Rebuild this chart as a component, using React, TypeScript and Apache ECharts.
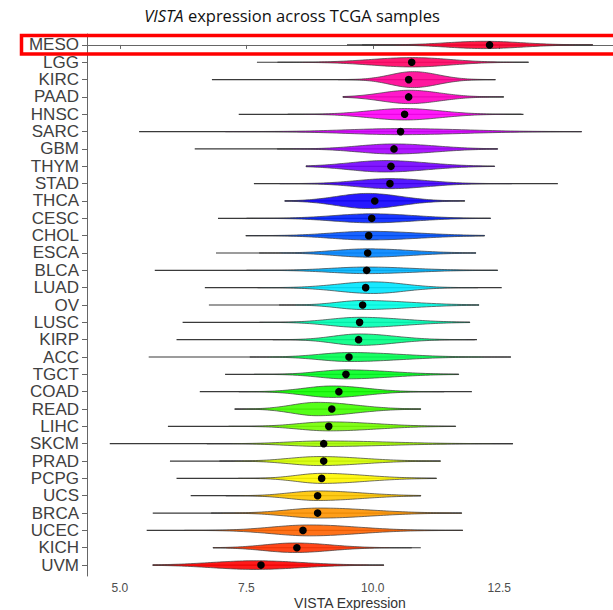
import React, { useEffect, useRef } from "react";
import * as echarts from "echarts";

// Categories listed top to bottom
const categories = [
  "MESO", "LGG", "KIRC", "PAAD", "HNSC", "SARC", "GBM", "THYM", "STAD", "THCA",
  "CESC", "CHOL", "ESCA", "BLCA", "LUAD", "OV", "LUSC", "KIRP", "ACC", "TGCT",
  "COAD", "READ", "LIHC", "SKCM", "PRAD", "PCPG", "UCS", "BRCA", "UCEC", "KICH", "UVM",
];
// whisker range (min / max of expression)
const minValues = [
  9.49, 7.71, 6.82, 9.41, 7.35, 5.38, 6.48, 8.68, 7.65, 8.26,
  6.94, 7.49, 6.9, 5.69, 6.68, 6.76, 6.24, 6.12, 5.57, 7.08,
  6.58, 7.27, 5.95, 4.8, 5.99, 6.12, 6.4, 5.65, 5.53, 6.84, 5.65,
];
const maxValues = [
  14.35, 13.08, 12.43, 12.59, 12.98, 14.13, 12.47, 12.41, 13.66, 11.82,
  12.33, 12.21, 12.04, 12.47, 12.55, 12.1, 11.92, 12.06, 12.73, 11.7,
  11.96, 10.95, 11.64, 12.77, 11.34, 11.26, 10.95, 11.76, 11.78, 10.95, 10.22,
];
const medians = [
  12.31, 10.77, 10.71, 10.71, 10.63, 10.55, 10.42, 10.36, 10.34, 10.04,
  9.98, 9.92, 9.9, 9.88, 9.86, 9.8, 9.74, 9.72, 9.53, 9.47,
  9.33, 9.19, 9.13, 9.03, 9.03, 8.99, 8.91, 8.91, 8.62, 8.5, 7.79,
];
// density shape: mode, left / right spread, relative peak density
const modes = [
  12.2, 10.79, 10.8, 10.73, 10.63, 10.55, 10.42, 10.24, 10.34, 9.9,
  9.98, 9.92, 9.9, 9.88, 10.0, 9.8, 9.74, 9.74, 9.55, 9.47,
  9.2, 8.9, 9.13, 9.03, 8.95, 8.99, 8.91, 8.95, 8.75, 8.46, 7.67,
];
const spreadLeft = [
  0.73, 0.81, 0.45, 0.56, 0.7, 1.05, 0.7, 0.7, 0.66, 0.61,
  0.75, 0.74, 0.65, 0.72, 0.69, 0.5, 0.6, 0.52, 0.6, 0.55,
  0.56, 0.5, 0.6, 0.7, 0.6, 0.5, 0.55, 0.65, 0.75, 0.6, 0.85,
];
const spreadRight = [
  0.75, 0.73, 0.49, 0.59, 0.7, 1.24, 0.81, 0.83, 0.73, 0.65,
  0.83, 0.98, 0.84, 0.9, 0.63, 0.94, 0.87, 0.69, 0.97, 0.88,
  0.67, 0.75, 0.92, 1.25, 0.85, 0.85, 0.85, 1.0, 0.95, 0.7, 0.91,
];
const peakDensity = [
  0.42, 0.54, 0.92, 0.77, 0.66, 0.35, 0.58, 0.66, 0.58, 0.87,
  0.52, 0.5, 0.48, 0.38, 0.67, 0.52, 0.58, 0.66, 0.52, 0.52,
  0.66, 0.77, 0.52, 0.32, 0.52, 0.58, 0.55, 0.58, 0.63, 0.55, 0.5,
];
const xTicks = [5, 7.5, 10, 12.5];

const colors = [
  "#FF0031", "#FF0063", "#FF0094", "#FF00C5", "#FF00F7", "#D600FF", "#A500FF", "#7300FF", "#4200FF", "#1000FF",
  "#0021FF", "#0052FF", "#0084FF", "#00B5FF", "#00E6FF", "#00FFE6", "#00FFB5", "#00FF84", "#00FF52", "#00FF21",
  "#10FF00", "#42FF00", "#73FF00", "#A5FF00", "#D6FF00", "#FFF700", "#FFC500", "#FF9400", "#FF6300", "#FF3100", "#FF0000",
];

const FONT = "'Liberation Sans', Arial, sans-serif";

export default function App() {
  const ref = useRef<HTMLDivElement>(null);

  useEffect(() => {
    document.body.style.margin = "0";
    if (!ref.current) return;
    const chart = echarts.init(ref.current, null, { renderer: "svg" });

    const data = categories.map((_, i) => [
      i, minValues[i], maxValues[i], medians[i], modes[i], spreadLeft[i], spreadRight[i], peakDensity[i],
    ]);
    const idx = categories.map((_, i) => i);

    const renderItem = (params: any, api: any) => {
      const i = api.value(0);
      const lo = api.value(1);
      const hi = api.value(2);
      const med = api.value(3);
      const mode = api.value(4);
      const sL = api.value(5);
      const sR = api.value(6);
      const dens = api.value(7);
      const unit = api.size([0, 1])[1];
      const halfBand = unit / 2;
      const yc = api.coord([lo, i])[1];
      const xOf = (v: number) => api.coord([v, i])[0];
      const a = Math.max(lo, mode - 3.3 * sL);
      const b = Math.min(hi, mode + 3.3 * sR);
      const n = 80;
      const upper: number[][] = [];
      const lower: number[][] = [];
      for (let k = 0; k <= n; k++) {
        const v = a + ((b - a) * k) / n;
        const s = v < mode ? sL : sR;
        const w = dens * halfBand * Math.exp(-0.5 * Math.pow((v - mode) / s, 2));
        upper.push([xOf(v), yc - w]);
        lower.push([xOf(v), yc + w]);
      }
      const pts = upper.concat(lower.reverse());
      return {
        type: "group",
        children: [
          {
            type: "line",
            shape: { x1: xOf(lo), y1: yc, x2: xOf(hi), y2: yc },
            style: { stroke: "#3a3a3a", lineWidth: 1.2 },
          },
          {
            type: "polygon",
            shape: { points: pts },
            style: { fill: colors[i], fillOpacity: 0.9, stroke: "#3a3a3a", lineWidth: 0.7 },
          },
          {
            type: "circle",
            shape: { cx: xOf(med), cy: yc, r: 3.8 },
            style: { fill: "#000" },
          },
        ],
      };
    };

    chart.setOption({
      animation: false,
      grid: { left: 87, right: 0, top: 34, bottom: 34, containLabel: false, outerBoundsMode: "none" },
      xAxis: {
        type: "value",
        min: 4.35,
        max: 14.75,
        axisLine: { show: true, lineStyle: { color: "#666", width: 1 } },
        axisTick: { show: true, customValues: xTicks, length: 4, lineStyle: { color: "#666" } },
        axisLabel: {
          customValues: xTicks,
          formatter: (v: number) => v.toFixed(1),
          fontSize: 12,
          color: "#4d4d4d",
          margin: 6,
          fontFamily: FONT,
        },
        splitLine: { show: false },
        name: "VISTA Expression",
        nameLocation: "middle",
        nameGap: 19,
        nameMoveOverlap: false,
        nameTextStyle: { fontSize: 14, lineHeight: 15, color: "#333", fontFamily: FONT },
      },
      yAxis: {
        type: "value",
        inverse: true,
        min: -0.63,
        max: 30.63,
        axisLine: { show: true, lineStyle: { color: "#666", width: 1 } },
        axisTick: { show: true, customValues: idx, length: 5, lineStyle: { color: "#666" } },
        axisLabel: {
          customValues: idx,
          formatter: (v: number) => categories[Math.round(v)],
          fontSize: 17,
          lineHeight: 16,
          color: "#404040",
          margin: 8,
          fontFamily: FONT,
        },
        splitLine: { show: false },
      },
      graphic: [
        {
          type: "text",
          x: 292,
          y: 15,
          style: {
            text: "{i|VISTA}{n| expression across TCGA samples}",
            textAlign: "center",
            textVerticalAlign: "middle",
            rich: {
              i: { fontStyle: "italic", fontSize: 16.5, fontFamily: "'Open Sans', sans-serif", fill: "#111" },
              n: { fontSize: 16.5, fontFamily: "'Open Sans', sans-serif", fill: "#111" },
            },
          },
        },
        {
          type: "rect",
          z: 100,
          shape: { x: 21.5, y: 35.5, width: 620, height: 18.5 },
          style: { fill: "none", stroke: "#FF0000", lineWidth: 3.5 },
        },
      ],
      series: [
        {
          type: "custom",
          renderItem,
          data,
          encode: { x: [1, 2], y: 0 },
          clip: false,
        },
      ],
    });

    return () => chart.dispose();
  }, []);

  return <div ref={ref} style={{ width: 613, height: 610 }} />;
}
